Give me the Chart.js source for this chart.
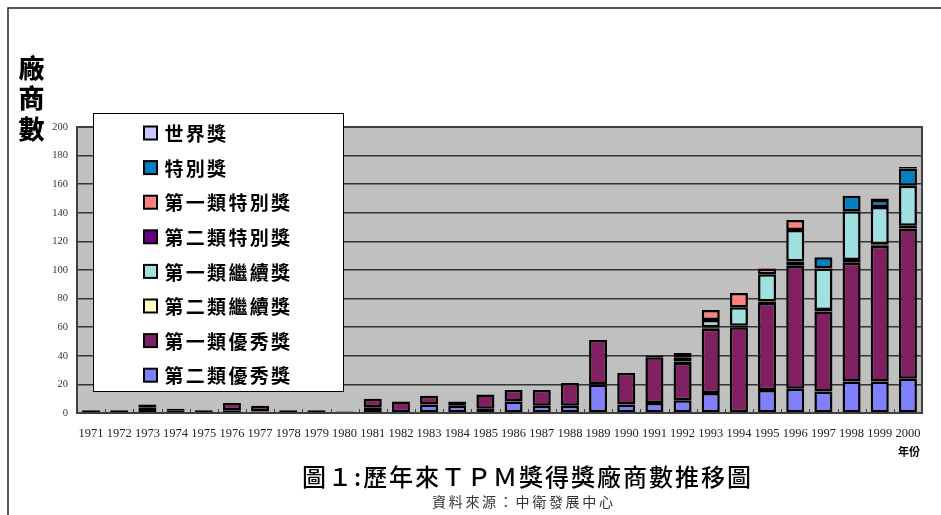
<!DOCTYPE html>
<html>
<head>
<meta charset="utf-8">
<script src="https://cdn.jsdelivr.net/npm/chart.js@4.4.0/dist/chart.umd.min.js"></script>
<style>
html,body{margin:0;padding:0;background:#fff;}
#wrap{width:941px;height:515px;position:relative;}
</style>
</head>
<body>
<div id="wrap"><canvas id="c" width="941" height="515"></canvas></div>
<script>
const years = ['1971','1972','1973','1974','1975','1976','1977','1978','1979','1980',
               '1981','1982','1983','1984','1985','1986','1987','1988','1989','1990',
               '1991','1992','1993','1994','1995','1996','1997','1998','1999','2000'];
const yTicks = [0,20,40,60,80,100,120,140,160,180,200];

// stacked bottom -> top
const class2Excellent = [0,0,4,2,0,2,1,0,0,0, 4,0,6,5,3,8,5,5,20,6, 7,9,14,0,16,17,15,22,22,24];
const class1Excellent = [2,2,2,1,2,5,4,2,2,1, 6,8,6,3,10,8,11,16,31,22, 32,26,45,60,61,86,56,83,95,105];
const class2Continue  = [0,0,0,0,0,0,0,0,0,0, 0,0,0,0,0,0,0,0,0,0, 0,1,1,1,1,3,1,2,1,2];
const class1Continue  = [0,0,0,0,0,0,0,0,0,0, 0,0,0,0,0,0,0,0,0,0, 0,3,5,13,19,22,29,34,26,28];
const class2Special   = [0,0,0,0,0,0,0,0,0,0, 0,0,0,0,0,0,0,0,0,0, 1,0,0,0,0,0,0,0,0,0];
const class1Special   = [0,0,0,0,0,0,0,0,0,0, 0,0,0,0,0,0,0,0,0,0, 0,3,7,10,4,7,0,0,0,0];
const specialAward    = [0,0,0,0,0,0,0,0,0,0, 0,0,0,0,0,0,0,0,0,0, 0,0,0,0,0,0,8,11,5,12];
const worldAward      = [0,0,0,0,0,0,0,0,0,0, 0,0,0,0,0,0,0,0,0,0, 0,0,0,0,0,0,0,0,1,1];

const seriesNames  = ['第二類優秀獎','第一類優秀獎','第二類繼續獎','第一類繼續獎','第二類特別獎','第一類特別獎','特別獎','世界獎'];
const seriesData   = [class2Excellent,class1Excellent,class2Continue,class1Continue,class2Special,class1Special,specialAward,worldAward];
const seriesColors = ['#8080FF','#802060','#FFFFC0','#A0E0E0','#660080','#FF8080','#0080C0','#C8C8FF'];

const titleText = '圖１:歷年來ＴＰＭ獎得獎廠商數推移圖';
const sourceText = '資料來源：中衛發展中心';
const yTitle = '廠商數';
const xTitle = '年份';

const CJK = '"Noto Sans CJK TC","Noto Sans CJK SC",sans-serif';
const SERIF = '"Liberation Serif","Times New Roman",serif';

function drawFit(ctx, text, left, right, y) {
  const chars = Array.from(text);
  const widths = chars.map(c => ctx.measureText(c).width);
  const total = widths.reduce((a,b)=>a+b,0);
  const gap = chars.length > 1 ? ((right-left) - total) / (chars.length - 1) : 0;
  let x = left;
  ctx.textAlign = 'left';
  chars.forEach((c,i) => { ctx.fillText(c, x, y); x += widths[i] + gap; });
}

const decor = {
  id: 'decor',
  beforeDraw(chart) {
    const {ctx, chartArea: a} = chart;
    ctx.save();
    ctx.fillStyle = '#ffffff';
    ctx.fillRect(0,0,chart.width,chart.height);
    ctx.fillStyle = '#C0C0C0';
    ctx.fillRect(a.left, a.top, a.right-a.left, a.bottom-a.top);
    ctx.restore();
  },
  afterDraw(chart) {
    const {ctx, chartArea: a} = chart;
    const xs = chart.scales.x;
    ctx.save();
    // small category tick marks inside the plot bottom
    ctx.strokeStyle = '#404040';
    ctx.lineWidth = 1;
    for (let i = 1; i < years.length; i++) {
      const px = Math.round((xs.getPixelForValue(i-1) + xs.getPixelForValue(i)) / 2) + 0.5;
      ctx.beginPath(); ctx.moveTo(px, a.bottom); ctx.lineTo(px, a.bottom - 4); ctx.stroke();
    }
    // plot frame
    ctx.strokeStyle = '#404040';
    ctx.lineWidth = 2;
    ctx.strokeRect(a.left, a.top, a.right-a.left, a.bottom-a.top);

    // legend box (drawn from datasets, reversed)
    const lx = 93.5, ly = 113.5, lw = 250, lh = 278;
    ctx.fillStyle = '#ffffff';
    ctx.fillRect(lx, ly, lw, lh);
    ctx.strokeStyle = '#000';
    ctx.lineWidth = 1;
    ctx.strokeRect(lx, ly, lw, lh);
    const dsets = chart.data.datasets.slice().reverse();
    ctx.font = 'bold 19px ' + CJK;
    ctx.textBaseline = 'middle';
    dsets.forEach((ds, i) => {
      const cy = 133 + i * 34.6;
      ctx.fillStyle = ds.backgroundColor;
      ctx.fillRect(144, cy - 6.5, 13, 13);
      ctx.strokeStyle = '#000';
      ctx.lineWidth = 2;
      ctx.strokeRect(144, cy - 6.5, 13, 13);
      ctx.fillStyle = '#000';
      let x = 164.5;
      for (const ch of ds.label) { ctx.fillText(ch, x, cy + 1); x += 21.3; }
    });

    // y-axis title (vertical stacked)
    ctx.font = '900 26px ' + CJK;
    ctx.fillStyle = '#000';
    ctx.textAlign = 'center';
    Array.from(yTitle).forEach((ch, i) => ctx.fillText(ch, 31.5, 68 + i * 30.5));

    // x-axis title
    ctx.font = 'bold 11px ' + CJK;
    ctx.textAlign = 'right';
    ctx.fillText(xTitle, 920, 452);

    // main title
    ctx.font = '500 24px ' + CJK;
    ctx.fillStyle = '#000';
    drawFit(ctx, titleText, 302, 751, 477);

    // source
    ctx.font = '14px ' + CJK;
    ctx.fillStyle = '#333';
    drawFit(ctx, sourceText, 432, 613, 502);

    // page border (left/top)
    ctx.strokeStyle = '#222';
    ctx.lineWidth = 1.5;
    ctx.beginPath();
    ctx.moveTo(8, 600); ctx.lineTo(8, 8); ctx.lineTo(1000, 8);
    ctx.stroke();
    ctx.restore();
  }
};

new Chart(document.getElementById('c'), {
  type: 'bar',
  data: {
    labels: years,
    datasets: seriesNames.map((name, i) => ({
      label: name,
      data: seriesData[i],
      backgroundColor: seriesColors[i],
      borderColor: '#000',
      borderWidth: 2.5,
      borderSkipped: false,
      barPercentage: 0.64,
      categoryPercentage: 1.0
    }))
  },
  options: {
    responsive: false,
    animation: false,
    devicePixelRatio: 1,
    layout: { padding: { left: 0, top: 127, right: 19, bottom: 0 } },
    plugins: { legend: { display: false }, title: { display: false }, tooltip: { enabled: false } },
    scales: {
      x: {
        stacked: true,
        grid: { display: false, drawTicks: false },
        border: { display: false },
        ticks: { font: { family: SERIF, size: 12.5 }, color: '#222', padding: 13, maxRotation: 0, autoSkip: false },
        afterFit(s) { s.height = 102; }
      },
      y: {
        stacked: true,
        min: 0, max: 200,
        afterBuildTicks(s) { s.ticks = yTicks.map(v => ({ value: v })); },
        grid: { color: '#333', lineWidth: 1.5, drawTicks: false },
        border: { display: false },
        ticks: { font: { family: SERIF, size: 10.5 }, color: '#333', padding: 9 },
        afterFit(s) { s.width = 77; }
      }
    }
  },
  plugins: [decor]
});
</script>
</body>
</html>
